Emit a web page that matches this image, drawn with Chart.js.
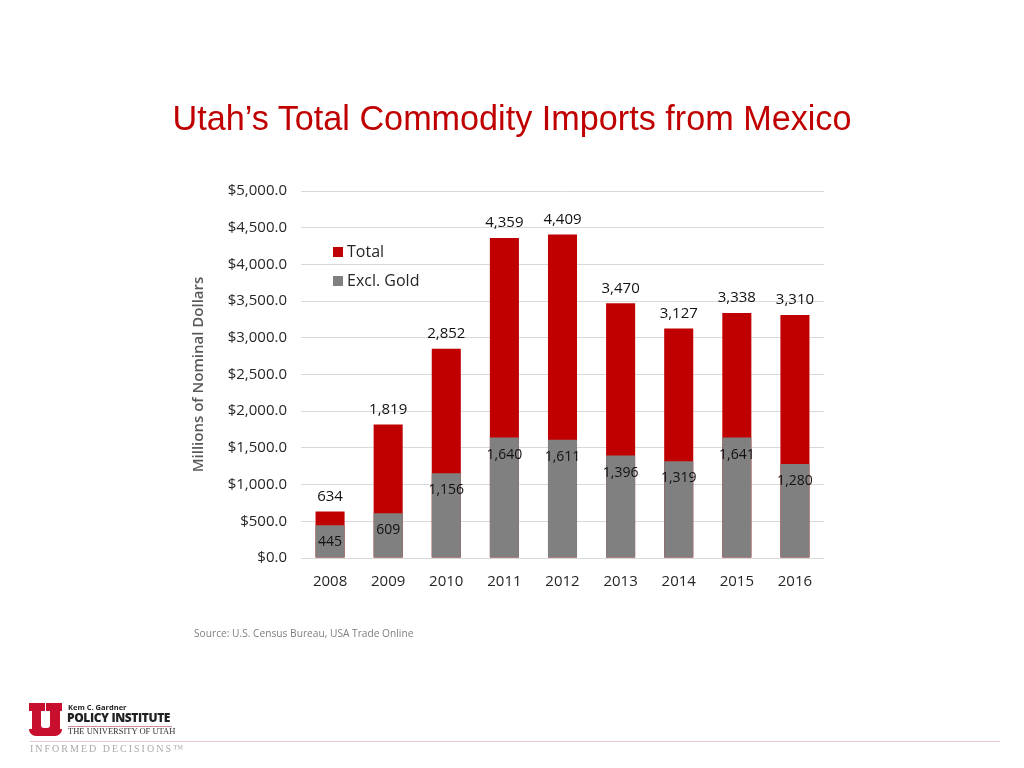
<!DOCTYPE html>
<html>
<head>
<meta charset="utf-8">
<script src="https://cdn.jsdelivr.net/npm/chart.js@4"></script>
<style>
  body { margin: 0; width: 1024px; height: 768px; background: #fff; position: relative; overflow: hidden; font-family: "Open Sans", sans-serif; }
  #wrap { position: absolute; left: 0; top: 0; width: 1024px; height: 768px; }
  .abs { position: absolute; white-space: nowrap; }
  #title { left: 0; width: 1024px; top: 99px; text-align: center; font-family: "Liberation Sans", Arial, sans-serif; font-size: 34.2px; color: #C00000; }
  .leg { font-size: 16px; color: #262626; }
  .sw { display: inline-block; width: 10px; height: 10px; margin-right: 4px; vertical-align: 0px; }
  #source { left: 194px; top: 626px; font-size: 10.2px; color: #7f7f7f; }
  .red { background: #C8102E; }
  .wht { background: #fff; }
</style>
</head>
<body>
<div id="wrap"><canvas id="grafico" width="1024" height="768"></canvas></div>

<div id="title" class="abs">Utah’s Total Commodity Imports from Mexico</div>
<div class="abs leg" style="left:333px; top:240px;"><span class="sw" style="background:#C00000"></span>Total</div>
<div class="abs leg" style="left:333px; top:269px;"><span class="sw" style="background:#808080"></span>Excl. Gold</div>
<div id="source" class="abs">Source: U.S. Census Bureau, USA Trade Online</div>

<!-- logo do rodapé -->
<div class="abs red" style="left:29px; top:703px; width:33px; height:33px; border-radius:0 0 7px 7px;"></div>
<div class="abs wht" style="left:45px; top:703px; width:1px; height:8px;"></div>
<div class="abs wht" style="left:41px; top:711px; width:9px; height:17px; border-radius:0 0 3px 3px;"></div>
<div class="abs wht" style="left:29px; top:711px; width:3px; height:18px;"></div>
<div class="abs wht" style="left:60px; top:711px; width:2px; height:18px;"></div>
<div class="abs" style="left:68px; top:702px; font-size:7.5px; font-weight:700; color:#222;">Kem C. Gardner</div>
<div class="abs" style="left:67px; top:709px; font-size:12px; font-weight:800; color:#222; letter-spacing:-0.4px;">POLICY INSTITUTE</div>
<div class="abs" style="left:68px; top:726px; width:104px; height:1px; background:#d88a9a;"></div>
<div class="abs" style="left:68px; top:726px; font-family:'Liberation Serif',serif; font-size:8.5px; color:#333;">THE UNIVERSITY OF UTAH</div>
<div class="abs" style="left:30px; top:741px; width:970px; height:1px; background:#e6c4cc;"></div>
<div class="abs" style="left:30px; top:743px; font-family:'Liberation Serif',serif; font-size:10px; letter-spacing:2px; color:#aaa;">INFORMED DECISIONS™</div>

<script>
// Dados do gráfico
const anos = ['2008', '2009', '2010', '2011', '2012', '2013', '2014', '2015', '2016'];
const total = [634, 1819, 2852, 4359, 4409, 3470, 3127, 3338, 3310];
const semOuro = [445, 609, 1156, 1640, 1611, 1396, 1319, 1641, 1280];

// Plugin para escrever os valores nas barras
const rotulos = {
    id: 'rotulos',
    afterDatasetsDraw(chart) {
        const ctx = chart.ctx;
        ctx.save();
        ctx.textAlign = 'center';
        ctx.textBaseline = 'middle';
        ctx.fillStyle = '#111';
        chart.data.datasets.forEach((ds, i) => {
            const meta = chart.getDatasetMeta(i);
            meta.data.forEach((bar, j) => {
                const txt = ds.data[j].toLocaleString('en-US');
                if (i === 0) {
                    ctx.font = '15px "Open Sans"';
                    ctx.fillText(txt, bar.x, bar.y - 15);
                } else {
                    ctx.font = '14px "Open Sans"';
                    ctx.fillText(txt, bar.x, bar.y + 17);
                }
            });
        });
        ctx.restore();
    }
};

new Chart(document.getElementById('grafico').getContext('2d'), {
    type: 'bar',
    data: {
        labels: anos,
        datasets: [
            // order maior = desenhado por baixo
            { label: 'Total', data: total, backgroundColor: '#C00000', grouped: false, order: 1 },
            { label: 'Excl. Gold', data: semOuro, backgroundColor: '#808080', grouped: false, order: 0 }
        ]
    },
    options: {
        responsive: false,
        animation: false,
        datasets: { bar: { barPercentage: 1, categoryPercentage: 0.5 } },
        layout: { padding: { left: 190, top: 191, right: 200, bottom: 170 } },
        plugins: { legend: { display: false }, tooltip: { enabled: false } },
        scales: {
            x: {
                grid: { display: false },
                border: { display: false },
                ticks: { padding: 7, color: '#262626', font: { family: 'Open Sans', size: 15 } },
                afterFit: s => { s.height = 40; }
            },
            y: {
                min: 0,
                max: 5000,
                grid: { color: '#d9d9d9', drawTicks: false },
                border: { display: false },
                ticks: {
                    stepSize: 500,
                    padding: 14,
                    color: '#262626',
                    font: { family: 'Open Sans', size: 15 },
                    callback: v => '$' + v.toLocaleString('en-US', { minimumFractionDigits: 1, maximumFractionDigits: 1 })
                },
                title: {
                    display: true,
                    text: 'Millions of Nominal Dollars',
                    color: '#595959',
                    padding: 0,
                    font: { family: 'Open Sans', size: 15, weight: '600' }
                },
                afterFit: s => { s.width = 111; }
            }
        }
    },
    plugins: [rotulos]
});
</script>
</body>
</html>
